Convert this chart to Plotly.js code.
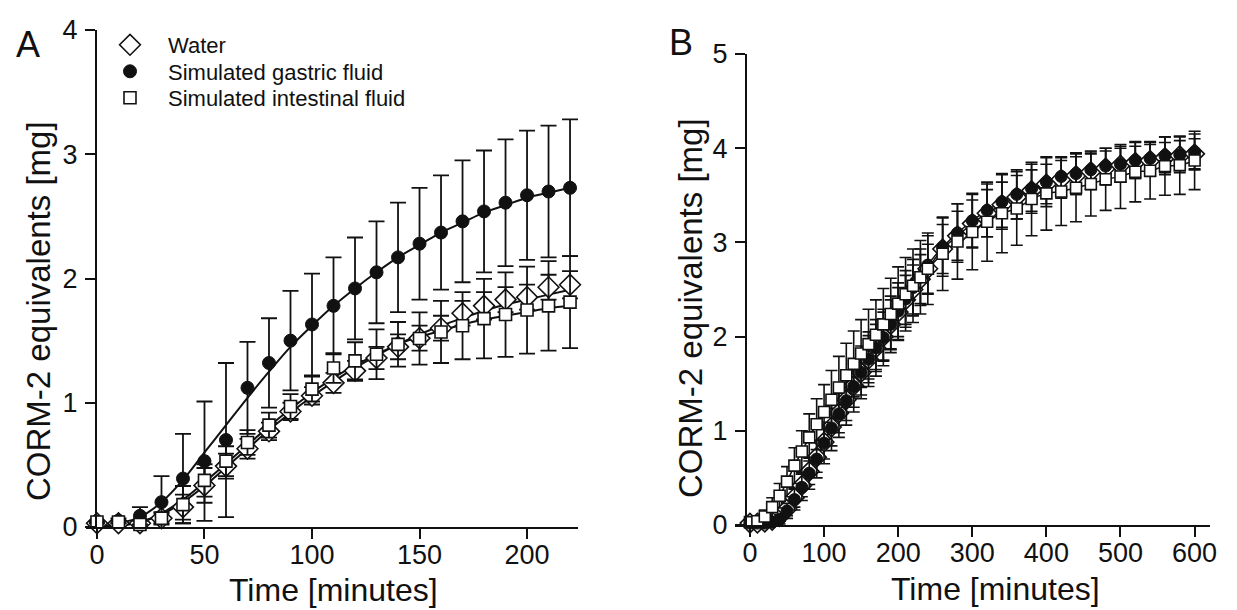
<!DOCTYPE html>
<html>
<head>
<meta charset="utf-8">
<script src="https://cdn.plot.ly/plotly-3.0.1.min.js"></script>
<style>html,body{margin:0;padding:0;background:#fff;}#chart{width:1237px;height:610px;}</style>
</head>
<body>
<div id="chart"></div>
<script>
// ---------- Panel A data ----------
const timeA = [0,10,20,30,40,50,60,70,80,90,100,110,120,130,140,150,160,170,180,190,200,210,220];
const waterA = [0.03,0.03,0.03,0.07,0.16,0.335,0.49,0.63,0.77,0.93,1.056,1.16,1.257,1.36,1.45,1.52,1.6,1.72,1.78,1.83,1.85,1.93,1.95];
const waterA_sd = [0.01,0.01,0.02,0.04,0.1,0.14,0.1,0.08,0.07,0.07,0.07,0.08,0.08,0.09,0.1,0.1,0.1,0.1,0.11,0.1,0.1,0.1,0.11];
const gastricA = [0.04,0.05,0.09,0.2,0.39,0.53,0.7,1.12,1.32,1.5,1.63,1.78,1.92,2.05,2.17,2.28,2.37,2.46,2.54,2.61,2.67,2.7,2.73];
const gastricA_sd = [0.01,0.02,0.07,0.21,0.36,0.48,0.62,0.37,0.36,0.4,0.41,0.39,0.41,0.41,0.44,0.45,0.46,0.49,0.49,0.51,0.52,0.53,0.55];
const intestinalA = [0.04,0.04,0.02,0.07,0.18,0.375,0.53,0.68,0.82,0.97,1.11,1.28,1.337,1.39,1.47,1.517,1.57,1.62,1.677,1.71,1.746,1.78,1.81];
const intestinalA_sd = [0.01,0.01,0.03,0.05,0.15,0.13,0.12,0.1,0.1,0.1,0.1,0.12,0.15,0.2,0.18,0.21,0.25,0.27,0.32,0.34,0.35,0.36,0.37];
// fitted curves
const fitGastricA = [0.0,0.03,0.08,0.2,0.38,0.6,0.82,1.04,1.25,1.45,1.62,1.78,1.92,2.05,2.17,2.27,2.37,2.45,2.53,2.59,2.65,2.69,2.73];
const fitWaterA = [0.0,0.01,0.04,0.1,0.2,0.33,0.48,0.63,0.78,0.92,1.05,1.17,1.28,1.38,1.47,1.55,1.62,1.68,1.74,1.79,1.83,1.87,1.91];
const fitIntestinalA = [0.0,0.01,0.04,0.11,0.22,0.36,0.51,0.66,0.81,0.95,1.08,1.2,1.3,1.39,1.47,1.53,1.58,1.63,1.67,1.7,1.73,1.76,1.78];

// ---------- Panel B data ----------
const timeB = [0,10,20,30,40,50,60,70,80,90,100,110,120,130,140,150,160,170,180,190,200,210,220,230,240,
               260,280,300,320,340,360,380,400,420,440,460,480,500,520,540,560,580,600];
const waterB = [0.02,0.02,0.03,0.05,0.09,0.17,0.29,0.42,0.57,0.72,0.88,1.04,1.19,1.33,1.48,1.62,1.76,1.88,2.0,2.13,2.26,2.39,2.5,2.61,2.72,
                2.93,3.07,3.2,3.31,3.4,3.48,3.55,3.62,3.67,3.71,3.75,3.79,3.82,3.85,3.87,3.9,3.92,3.94];
const waterB_sd = [0.01,0.01,0.02,0.03,0.05,0.07,0.1,0.12,0.14,0.16,0.18,0.2,0.21,0.22,0.23,0.24,0.25,0.25,0.26,0.26,0.26,0.26,0.26,0.26,0.26,
                   0.26,0.26,0.25,0.25,0.24,0.23,0.22,0.21,0.2,0.2,0.19,0.18,0.18,0.17,0.17,0.16,0.16,0.16];
const gastricB = [0.02,0.02,0.02,0.03,0.06,0.15,0.27,0.4,0.55,0.7,0.87,1.03,1.18,1.32,1.47,1.62,1.76,1.88,1.99,2.13,2.27,2.4,2.52,2.63,2.76,
                  2.95,3.1,3.23,3.34,3.43,3.51,3.57,3.64,3.7,3.73,3.77,3.81,3.83,3.87,3.89,3.92,3.93,3.96];
const gastricB_sd = [0.01,0.01,0.02,0.03,0.05,0.08,0.11,0.14,0.17,0.2,0.22,0.24,0.25,0.26,0.27,0.28,0.29,0.3,0.3,0.3,0.3,0.3,0.3,0.3,0.31,
                     0.31,0.31,0.29,0.28,0.29,0.26,0.26,0.26,0.21,0.22,0.2,0.19,0.19,0.19,0.18,0.2,0.19,0.19];
const intestinalB = [0.03,0.04,0.09,0.19,0.31,0.46,0.63,0.78,0.93,1.07,1.2,1.33,1.46,1.59,1.71,1.82,1.92,2.02,2.13,2.24,2.35,2.45,2.54,2.63,2.72,
                     2.88,3.01,3.11,3.22,3.31,3.36,3.46,3.52,3.54,3.58,3.62,3.67,3.7,3.75,3.76,3.81,3.82,3.87];
const intestinalB_sd = [0.02,0.04,0.07,0.1,0.13,0.16,0.19,0.22,0.25,0.27,0.29,0.31,0.33,0.34,0.35,0.36,0.37,0.37,0.38,0.38,0.39,0.39,0.39,0.39,0.38,
                        0.39,0.4,0.4,0.42,0.42,0.39,0.39,0.39,0.36,0.36,0.34,0.33,0.34,0.32,0.3,0.31,0.31,0.31];

const seriesNames = ['Water','Simulated gastric fluid','Simulated intestinal fluid'];
const tickValsAx = [0,50,100,150,200];
const tickValsBx = [0,100,200,300,400,500,600];

// ---------- layout helpers (pixel -> paper) ----------
const W = 1237, H = 610;
const px = v => v / W;
const py = v => 1 - v / H;
const FONT = 'Liberation Sans, Arial, Helvetica, sans-serif';
const INK = '#111111';

function markerStyle(kind, size){
  if (kind === 0) return {symbol:'diamond', size:size+3, color:'#ffffff', line:{color:INK,width:1.6}};
  if (kind === 1) return {symbol:'circle', size:size, color:INK, line:{color:INK,width:1}};
  return {symbol:'square', size:size-1, color:'#ffffff', line:{color:INK,width:1.6}};
}

const legendIds = ['legend','legend2','legend3'];
const legendRowsPx = [45, 71.5, 98];

const traces = [];
// Panel A fit curves
[fitWaterA, fitGastricA, fitIntestinalA].forEach(f => {
  traces.push({x: timeA, y: f, xaxis:'x', yaxis:'y', mode:'lines', line:{color:INK,width:2,shape:'spline',smoothing:1}, showlegend:false, hoverinfo:'skip', cliponaxis:false});
});
// Panel A points
const dataA = [[waterA, waterA_sd],[gastricA, gastricA_sd],[intestinalA, intestinalA_sd]];
dataA.forEach((d, i) => {
  traces.push({
    x: timeA, y: d[0], xaxis:'x', yaxis:'y', mode:'markers', name: seriesNames[i],
    marker: markerStyle(i, 13),
    error_y: {type:'data', array: d[1], visible:true, color:INK, thickness:1.8, width:8},
    cliponaxis:false, showlegend:true, legend: legendIds[i]
  });
});
// Panel B curves
[waterB, gastricB, intestinalB].forEach(f => {
  traces.push({x: timeB, y: f, xaxis:'x2', yaxis:'y2', mode:'lines', line:{color:INK,width:1.5,shape:'spline'}, showlegend:false, hoverinfo:'skip', cliponaxis:false});
});
const dataB = [[waterB, waterB_sd],[gastricB, gastricB_sd],[intestinalB, intestinalB_sd]];
dataB.forEach((d, i) => {
  traces.push({
    x: timeB, y: d[0], xaxis:'x2', yaxis:'y2', mode:'markers', name: seriesNames[i],
    marker: markerStyle(i, 12),
    error_y: {type:'data', array: d[1], visible:true, color:INK, thickness:1.6, width:6},
    cliponaxis:false, showlegend:false
  });
});

const axCommon = {
  showline:true, linecolor:INK, linewidth:2, ticks:'outside', ticklen:10, tickwidth:2, tickcolor:INK,
  showgrid:false, zeroline:false, tickfont:{family:FONT, size:27, color:INK}, fixedrange:true
};

function legendAt(rowPx){
  return {x:px(92), y:py(rowPx), xanchor:'left', yanchor:'middle', bgcolor:'rgba(0,0,0,0)',
          font:{family:FONT, size:22, color:INK}, itemwidth:66, borderwidth:0};
}

const layout = {
  width:W, height:H, autosize:false,
  margin:{l:0,r:0,t:0,b:0,pad:0},
  paper_bgcolor:'#ffffff', plot_bgcolor:'rgba(0,0,0,0)',
  font:{family:FONT, color:INK},
  showlegend:true,
  legend: legendAt(legendRowsPx[0]),
  legend2: legendAt(legendRowsPx[1]),
  legend3: legendAt(legendRowsPx[2]),
  xaxis: Object.assign({}, axCommon, {domain:[px(86), px(578)], range:[-5.1, 223.7], anchor:'y', tickmode:'array', tickvals:tickValsAx, ticklabelstandoff:-7}),
  yaxis: Object.assign({}, axCommon, {domain:[py(527), py(30)], range:[0,4], anchor:'free', position:px(96), dtick:1, tick0:0, ticklabelstandoff:2}),
  xaxis2: Object.assign({}, axCommon, {domain:[px(735), px(1210)], range:[-20.2, 620.8], anchor:'y2', tickmode:'array', tickvals:tickValsBx, ticklabelstandoff:-7}),
  yaxis2: Object.assign({}, axCommon, {domain:[py(525), py(54)], range:[0,5], anchor:'free', position:px(746), dtick:1, tick0:0, ticklabelstandoff:2}),
  annotations:[
    {text:'A', x:px(28), y:py(45), xref:'paper', yref:'paper', showarrow:false, font:{family:FONT,size:36,color:INK}, xanchor:'center', yanchor:'middle'},
    {text:'B', x:px(681), y:py(42), xref:'paper', yref:'paper', showarrow:false, font:{family:FONT,size:36,color:INK}, xanchor:'center', yanchor:'middle'},
    {text:'CORM-2 equivalents [mg]', x:px(38), y:py(311), xref:'paper', yref:'paper', showarrow:false, textangle:-90, font:{family:FONT,size:33,color:INK}, xanchor:'center', yanchor:'middle'},
    {text:'CORM-2 equivalents [mg]', x:px(690), y:py(308), xref:'paper', yref:'paper', showarrow:false, textangle:-90, font:{family:FONT,size:33,color:INK}, xanchor:'center', yanchor:'middle'},
    {text:'Time [minutes]', x:px(333), y:py(590), xref:'paper', yref:'paper', showarrow:false, font:{family:FONT,size:32,color:INK}, xanchor:'center', yanchor:'middle'},
    {text:'Time [minutes]', x:px(995), y:py(589), xref:'paper', yref:'paper', showarrow:false, font:{family:FONT,size:32,color:INK}, xanchor:'center', yanchor:'middle'}
  ]
};

Plotly.newPlot('chart', traces, layout, {staticPlot:true, displayModeBar:false});
</script>
</body>
</html>
